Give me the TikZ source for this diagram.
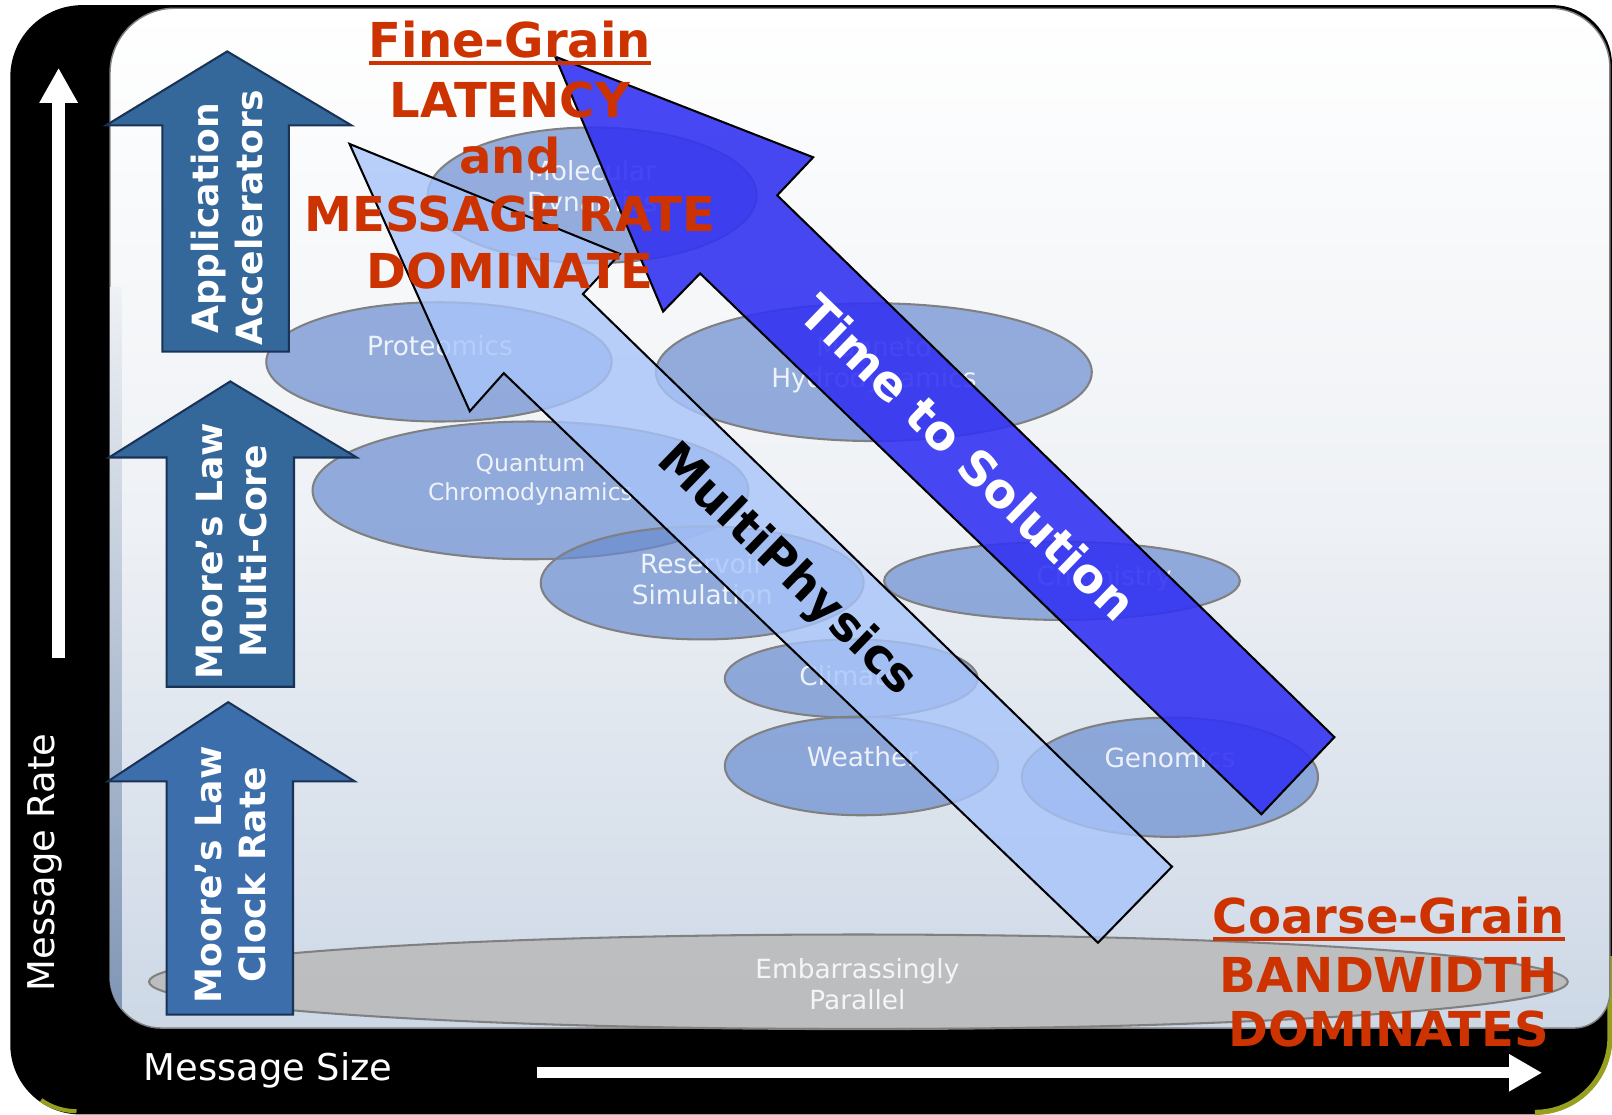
\documentclass[tikz,border=0pt]{standalone}
\usepackage{fontspec}
\setmainfont{DejaVu Sans}
\usepackage{tikz}
\usetikzlibrary{arrows.meta}

\definecolor{redtxt}{RGB}{204,51,0}
\definecolor{boxblue}{RGB}{52,103,154}
\definecolor{boxblue2}{RGB}{60,110,172}
\definecolor{boxedge}{RGB}{25,50,85}
\definecolor{blobfill}{RGB}{105,140,208}
\definecolor{multi}{RGB}{168,196,250}
\definecolor{tts}{RGB}{52,52,242}
\definecolor{panelmid}{RGB}{238,241,245}
\definecolor{panelbot}{RGB}{205,216,230}
\definecolor{steel}{RGB}{125,148,180}
\definecolor{rimolive}{RGB}{150,160,30}

\newcommand\redul[1]{\setbox0\hbox{#1}\rlap{\rule[-2pt]{\wd0}{1.1pt}}\box0}

\begin{document}
\begin{tikzpicture}[x=0.01cm,y=0.01cm,
    blob/.style={fill=blobfill,fill opacity=0.7,draw=gray,line width=0.2mm},
    blobtext/.style={text=white,text opacity=0.85,font=\fontsize{7.3}{8.6}\selectfont,align=center},
    redline/.style={text=redtxt,font=\bfseries\fontsize{13.3}{15}\selectfont,anchor=base},
    upbox/.style={fill=boxblue,draw=boxedge,line width=0.2mm},
    uptext/.style={text=white,font=\bfseries\fontsize{10}{12.2}\selectfont,align=center,rotate=90},
    slant/.style={font=\bfseries\fontsize{13.2}{16}\selectfont,rotate=-44},
    axisarrow/.style={white,-{Triangle[length=3.4mm,width=3.5mm]}}]
    \useasboundingbox (0,0) rectangle (1568,-1084);

    \fill[black] (10,-75) arc[start angle=180,end angle=90,radius=70] -- (1510,-5) arc[start angle=90,end angle=0,radius=58] -- (1568,-1009) arc[start angle=0,end angle=-90,radius=75] -- (78,-1084) arc[start angle=270,end angle=180,radius=68] -- cycle;
    \draw[rimolive, line width=0.5mm] (1566,-930) -- (1566,-1009) arc[start angle=0,end angle=-90,radius=73];
    \draw[rimolive, line width=0.4mm] (40,-1070) arc[start angle=235,end angle=270,radius=60];
    \path[draw=gray, top color=white, bottom color=panelbot, middle color=panelmid] (107,-71) arc[start angle=180,end angle=90,radius=63] -- (1508,-8) arc[start angle=90,end angle=0,radius=58] -- (1566,-965) arc[start angle=0,end angle=-90,radius=35] -- (157,-1000) arc[start angle=270,end angle=180,radius=50] -- cycle;
    \begin{scope}
        \clip (107,-71) -- (107,-950) arc[start angle=180,end angle=270,radius=50] -- (300,-1000) -- (300,-71) -- cycle;
        \shade[top color=panelmid, bottom color=steel] (107,-280) rectangle (118,-1000);
    \end{scope}

    \draw[blob] (576,-190) ellipse [x radius=160, y radius=66];
    \draw[blob] (427,-352) ellipse [x radius=168, y radius=58];
    \draw[blob] (850,-362) ellipse [x radius=212, y radius=67];
    \draw[blob] (516,-477) ellipse [x radius=212, y radius=67];
    \draw[blob] (683,-567) ellipse [x radius=157, y radius=55];
    \draw[blob] (1033,-565) ellipse [x radius=173, y radius=38];
    \draw[blob] (828,-660) ellipse [x radius=123, y radius=38];
    \draw[blob] (838,-745) ellipse [x radius=133, y radius=48];
    \draw[blob] (1138,-756) ellipse [x radius=144, y radius=58];
    \draw[fill={rgb,255:red,185;green,185;blue,185}, fill opacity=0.85, draw=gray, line width=0.2mm] (835,-955) ellipse [x radius=690, y radius=46];

    \node[blobtext] (1) at (576,-184) {Molecular\\Dynamics};
    \node[blobtext] (2) at (428,-336) {Proteomics};
    \node[blobtext] (3) at (850,-355) {Magneto\\Hydrodynamics};
    \node[blobtext, font=\fontsize{6.5}{8}\selectfont] (4) at (516,-467) {Quantum\\Chromodynamics};
    \node[blobtext] (5) at (683,-563) {Reservoir\\Simulation};
    \node[blobtext] (6) at (1074,-562) {Chemistry};
    \node[blobtext] (7) at (827,-657) {Climate};
    \node[blobtext] (8) at (839,-736) {Weather};
    \node[blobtext] (9) at (1138,-737) {Genomics};
    \node[blobtext] (10) at (834,-957) {Embarrassingly\\Parallel};

    \draw[black, line width=0.2mm, fill=multi, fill opacity=0.8] (340,-140) -- (603,-247) -- (567,-286) -- (1140,-843) -- (1068,-917) -- (490,-363) -- (457,-400) -- cycle;
    \draw[black, line width=0.2mm, fill=tts, fill opacity=0.9] (540,-55) -- (791,-153) -- (756,-190) -- (1298,-717) -- (1227,-792) -- (681,-266) -- (645,-303) -- cycle;
    \node[slant, text=black] (11) at (765,-555) {MultiPhysics};
    \node[slant, text=white] (12) at (942,-445) {Time to Solution};

    \draw[upbox] (158,-342) -- (158,-122) -- (103,-122) -- (221,-50) -- (342,-122) -- (281,-122) -- (281,-342) -- cycle;
    \draw[upbox] (162,-668) -- (162,-445) -- (106,-445) -- (224,-371) -- (347,-445) -- (286,-445) -- (286,-668) -- cycle;
    \draw[upbox, fill=boxblue2] (162,-987) -- (162,-760) -- (105,-760) -- (222,-683) -- (345,-760) -- (285,-760) -- (285,-987) -- cycle;
    \node[uptext] (13) at (221,-212) {Application\\Accelerators};
    \node[uptext] (14) at (225,-536) {Moore’s Law\\Multi-Core};
    \node[uptext] (15) at (224,-851) {Moore’s Law\\Clock Rate};

    \node[redline] (16) at (496,-56) {\redul{Fine-Grain}};
    \node[redline] (17) at (496,-114) {LATENCY};
    \node[redline] (18) at (496,-169) {and};
    \node[redline] (19) at (496,-225) {MESSAGE RATE};
    \node[redline] (20) at (496,-281) {DOMINATE};
    \node[redline] (21) at (1351,-908) {\redul{Coarse-Grain}};
    \node[redline] (22) at (1351,-965) {BANDWIDTH};
    \node[redline] (23) at (1351,-1018) {DOMINATES};

    \coordinate (24) at (57,-640);
    \coordinate (25) at (57,-66);
    \coordinate (26) at (522,-1043.5);
    \coordinate (27) at (1500,-1043.5);
    \draw[axisarrow, line width=1.2mm] (24) -- (25);
    \draw[axisarrow, line width=1.1mm, -{Triangle[length=3.2mm,width=3.4mm]}] (26) -- (27);
    \node[text=white, font=\fontsize{10.2}{12}\selectfont, rotate=90, anchor=base] (28) at (53,-839) {Message Rate};
    \node[text=white, font=\fontsize{10.2}{12}\selectfont, anchor=base west, inner sep=0pt] (29) at (139,-1051) {Message Size};
\end{tikzpicture}
\end{document}
